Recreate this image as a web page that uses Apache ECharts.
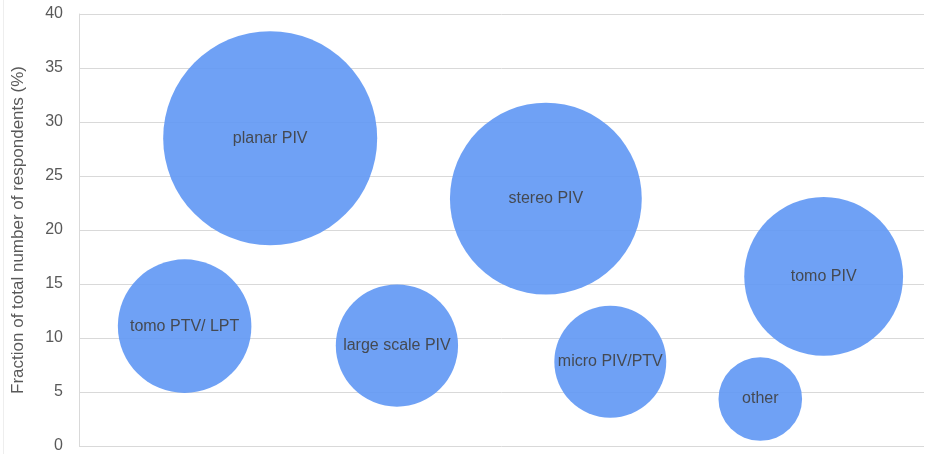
<!DOCTYPE html>
<html>
<head>
<meta charset="utf-8">
<script src="https://cdn.jsdelivr.net/npm/echarts@6/dist/echarts.min.js"></script>
<style>
html,body{margin:0;padding:0;background:#fff;}
#chart{width:925px;height:454px;}
</style>
</head>
<body>
<div id="chart"></div>
<script>
var categories = ['tomo PTV/ LPT', 'planar PIV', 'large scale PIV', 'stereo PIV', 'micro PIV/PTV', 'other', 'tomo PIV'];
var xValues = [1.0, 1.81, 3.01, 4.42, 5.03, 6.45, 7.05];
var yValues = [11.1, 28.5, 9.3, 22.9, 7.8, 4.35, 15.7];
var bubbleSizes = [11.1, 28.5, 9.3, 22.9, 7.8, 4.35, 15.7];
var yTicks = [0, 5, 10, 15, 20, 25, 30, 35, 40];

var data = categories.map(function (c, i) {
  return { name: c, value: [xValues[i], yValues[i], bubbleSizes[i]] };
});
var maxSize = Math.max.apply(null, bubbleSizes);

var chart = echarts.init(document.getElementById('chart'));
chart.setOption({
  animation: false,
  grid: { left: 79, right: 1, top: 14, bottom: 8, containLabel: false, outerBoundsMode: 'none' },
  xAxis: {
    type: 'value', min: 0, max: 8,
    show: true,
    axisLine: { show: false }, axisTick: { show: false },
    axisLabel: { show: false }, splitLine: { show: false }
  },
  yAxis: {
    type: 'value', min: yTicks[0], max: yTicks[yTicks.length - 1], interval: 5,
    name: 'Fraction of total number of respondents (%)',
    nameLocation: 'middle', nameGap: 52, nameRotate: 90,
    nameTextStyle: { color: '#595959', fontSize: 17, fontFamily: 'Liberation Sans, Arial, sans-serif' },
    axisLine: { show: true, lineStyle: { color: '#d9d9d9', width: 1 } },
    axisTick: { show: false },
    axisLabel: { color: '#595959', fontSize: 16, margin: 16, fontFamily: 'Liberation Sans, Arial, sans-serif' },
    splitLine: { show: true, lineStyle: { color: '#d9d9d9', width: 1 } }
  },
  graphic: [{
    type: 'line', shape: { x1: 3.5, y1: 0, x2: 3.5, y2: 454 },
    style: { stroke: '#eeeeee', lineWidth: 1 }, silent: true
  }],
  series: [{
    type: 'scatter',
    data: data,
    symbolSize: function (v) { return 214 * Math.sqrt(v[2] / maxSize); },
    itemStyle: { color: '#5f97f4', opacity: 0.9 },
    label: {
      show: true, position: 'inside',
      formatter: function (p) { return p.name; },
      color: '#404040', fontSize: 16,
      fontFamily: 'Liberation Sans, Arial, sans-serif'
    },
    emphasis: { disabled: true }
  }]
});
</script>
</body>
</html>
